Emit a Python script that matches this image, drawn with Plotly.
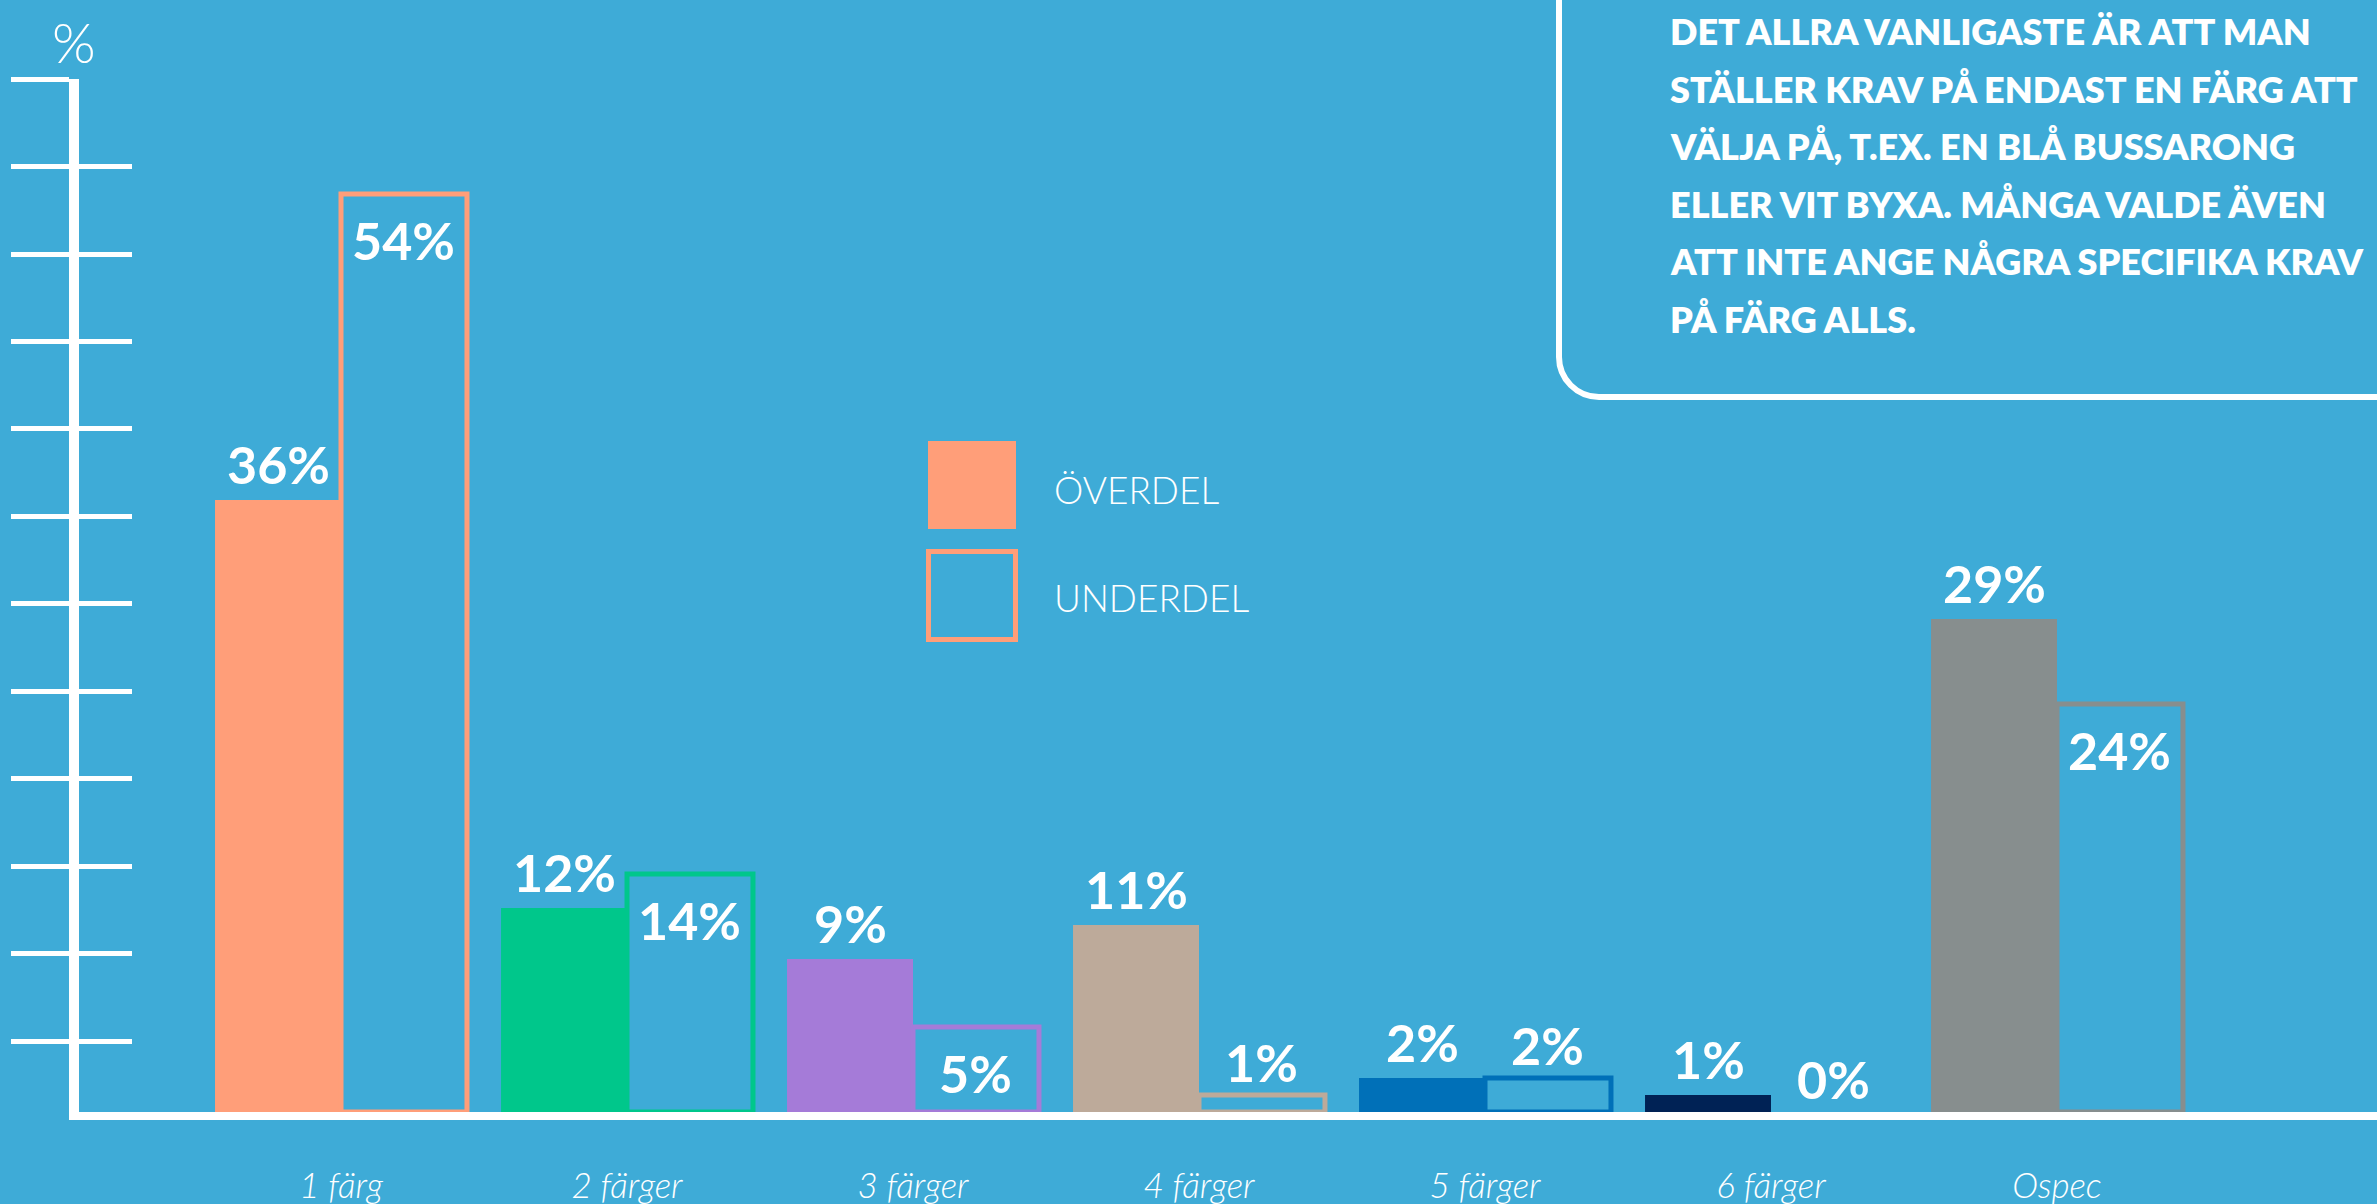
import plotly.graph_objects as go

# ---------------- data ----------------
categories = ["1 färg", "2 färger", "3 färger", "4 färger", "5 färger", "6 färger", "Ospec"]
overdel = [36, 12, 9, 11, 2, 1, 29]
underdel = [54, 14, 5, 1, 2, 0, 24]
underdel_label_pos = ["inside", "inside", "inside", "outside", "outside", "outside", "inside"]
colors = ["#FF9E79", "#00C78B", "#A57BD8", "#BDAA9A", "#0070B8", "#002255", "#878E8E"]
tick_vals = [4.15, 9.3, 14.45, 19.6, 24.75, 29.9, 35.05, 40.2, 45.3, 50.45, 55.6, 60.76]
series_names = ["ÖVERDEL", "UNDERDEL"]
info_lines = [
    "DET ALLRA VANLIGASTE ÄR ATT MAN",
    "STÄLLER KRAV PÅ ENDAST EN FÄRG ATT",
    "VÄLJA PÅ, T.EX. EN BLÅ BUSSARONG",
    "ELLER VIT BYXA. MÅNGA VALDE ÄVEN",
    "ATT INTE ANGE NÅGRA SPECIFIKA KRAV",
    "PÅ FÄRG ALLS.",
]

# ---------------- layout constants ----------------
W, H = 2377, 1204
ML, MR, MT, MB = 79, 0, 79, 92
PW, PH = W - ML - MR, H - MT - MB
BG = "#3EABD7"
WHITE = "#FFFFFF"
BAR_W = 0.4405  # width of one bar in category units


def px(xp):
    return (xp - ML) / PW


def py(yp):
    return (H - MB - yp) / PH


fig = go.Figure()
fig.add_trace(go.Bar(
    x=categories, y=overdel, name=series_names[0],
    width=BAR_W, offset=-BAR_W,
    marker=dict(color=colors, line=dict(width=0)),
    hoverinfo="x+y",
))
fig.add_trace(go.Bar(
    x=categories, y=underdel, name=series_names[1], yaxis="y2",
    width=BAR_W, offset=0,
    marker=dict(color="rgba(0,0,0,0)",
                line=dict(color=colors, width=[5 if v > 0 else 0 for v in underdel])),
    hoverinfo="x+y",
))

annotations = []
label_font = dict(family="Lato", size=52, color=WHITE, weight=700)
for i, v in enumerate(overdel):
    annotations.append(dict(x=i - BAR_W / 2, y=v, xref="x", yref="y", text=f"{v}%",
                            showarrow=False, yanchor="middle", xanchor="center",
                            yshift=36, font=label_font))
for i, v in enumerate(underdel):
    shift = -46 if underdel_label_pos[i] == "inside" else 33
    annotations.append(dict(x=i + BAR_W / 2, y=v, xref="x", yref="y", text=f"{v}%",
                            showarrow=False, yanchor="middle", xanchor="center",
                            yshift=shift, font=label_font))

# "%" axis title
annotations.append(dict(x=px(74), y=py(41), xref="paper", yref="paper", text="%",
                        showarrow=False, xanchor="center", yanchor="middle",
                        font=dict(family="Lato", size=56, color=WHITE, weight=300)))

# legend texts
annotations.append(dict(x=px(1052), y=py(490), xref="paper", yref="paper", text=series_names[0],
                        showarrow=False, xanchor="left", yanchor="middle",
                        font=dict(family="Lato", size=37, color=WHITE, weight=300)))
annotations.append(dict(x=px(1052), y=py(598), xref="paper", yref="paper", text=series_names[1],
                        showarrow=False, xanchor="left", yanchor="middle",
                        font=dict(family="Lato", size=37, color=WHITE, weight=300)))

# info box text
for k, line in enumerate(info_lines):
    annotations.append(dict(x=px(1668), y=py(31 + 57.6 * k), xref="paper", yref="paper",
                            text=line, showarrow=False, xanchor="left", yanchor="middle",
                            font=dict(family="Lato", size=36, color=WHITE, weight=800)))

shapes = [
    # legend swatches
    dict(type="rect", xref="paper", yref="paper", x0=px(928), x1=px(1016), y0=py(529), y1=py(441),
         fillcolor=colors[0], line=dict(width=0)),
    dict(type="rect", xref="paper", yref="paper", x0=px(928.5), x1=px(1015.5), y0=py(639.5), y1=py(551.5),
         fillcolor="rgba(0,0,0,0)", line=dict(color=colors[0], width=5)),
    # info box (rounded corner, extends past top and right edges)
    dict(type="path", xref="paper", yref="paper",
         path=(f"M {px(1559)} {py(-20)} L {px(1559)} {py(357)} "
               f"C {px(1559)} {py(379)} {px(1577)} {py(397)} {px(1599)} {py(397)} "
               f"L {px(2420)} {py(397)}"),
         line=dict(color=WHITE, width=6)),
]

fig.update_layout(
    width=W, height=H,
    margin=dict(l=ML, r=MR, t=MT, b=MB, pad=0),
    paper_bgcolor=BG, plot_bgcolor=BG,
    showlegend=False,
    annotations=annotations,
    shapes=shapes,
    xaxis=dict(
        type="category", range=[-262 / 286, -262 / 286 + PW / 286],
        showline=True, linecolor=WHITE, linewidth=8,
        showgrid=False, zeroline=False, ticks="",
        tickfont=dict(family="Lato", size=35, color=WHITE, style="italic", weight=300),
        ticklabelstandoff=36, fixedrange=True,
    ),
    yaxis=dict(
        range=[0, 60.77], showline=True, linecolor=WHITE, linewidth=10,
        showgrid=False, zeroline=False, showticklabels=False,
        tickmode="array", tickvals=tick_vals,
        ticks="outside", ticklen=58, tickwidth=5, tickcolor=WHITE, fixedrange=True,
    ),
    yaxis2=dict(
        overlaying="y", side="left", anchor="x", matches="y",
        range=[0, 60.77], showline=False, showgrid=False, zeroline=False,
        showticklabels=False, tickmode="array", tickvals=tick_vals,
        ticks="inside", ticklen=53, tickwidth=5, tickcolor=WHITE, fixedrange=True,
    ),
)

fig.write_html(
    "out.html",
    config={"displayModeBar": False},
    post_script="document.body.style.margin='0';document.body.style.overflow='hidden';",
)
